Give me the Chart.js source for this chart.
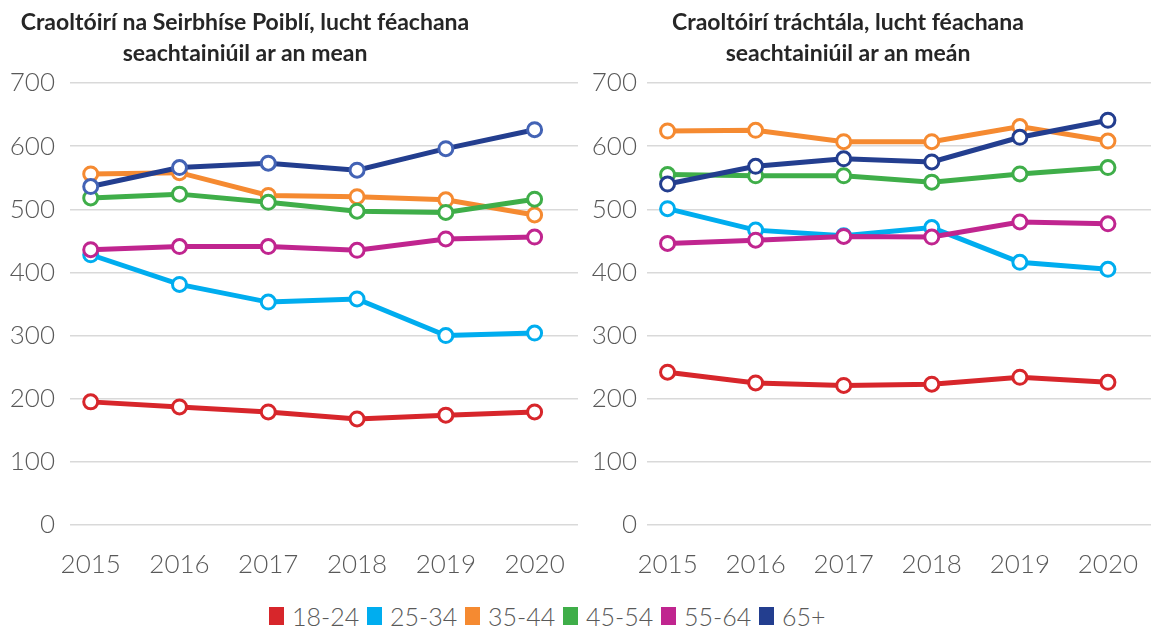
<!DOCTYPE html>
<html>
<head>
<meta charset="utf-8">
<script src="https://cdn.jsdelivr.net/npm/chart.js@4/dist/chart.umd.min.js"></script>
<style>
  body { margin: 0; background: #fff; font-family: Lato, sans-serif; }
  #page { position: relative; width: 1161px; height: 627px; overflow: hidden; }
  .title { position: absolute; top: 6px; text-align: center; font-weight: 700; font-size: 23px; line-height: 31px; color: #262626; z-index: 2; }
  .box { position: absolute; top: 0; height: 600px; }
  #legend { position: absolute; top: 603px; left: 269px; display: flex; font-size: 25px; font-weight: 300; color: #595959; line-height: 26px; }
  #legend .item { display: flex; align-items: center; width: 98px; }
  #legend .sw { width: 15px; height: 18px; margin-right: 8px; }
</style>
</head>
<body>
<div id="page">
  <div class="title" id="t1" style="left:0;width:490px">Craoltóirí na Seirbhíse Poiblí, lucht féachana<br>seachtainiúil ar an mean</div>
  <div class="title" id="t2" style="left:580px;width:536px">Craoltóirí tráchtála, lucht féachana<br>seachtainiúil ar an meán</div>
  <div class="box" style="left:0;width:588px"><canvas id="psb"></canvas></div>
  <div class="box" style="left:588px;width:573px"><canvas id="comm"></canvas></div>
  <div id="legend"></div>
</div>
<script>
var years = [2015, 2016, 2017, 2018, 2019, 2020];
var groups = ['18-24', '25-34', '35-44', '45-54', '55-64', '65+'];
var colors = ['#d7262b', '#00adef', '#f58a31', '#3fae49', '#c0258f', '#233e8f'];
var yTicks = [0, 100, 200, 300, 400, 500, 600, 700];

// public service broadcasters
var psb1824 = [195, 187, 179, 168, 174, 179];
var psb2534 = [428, 381, 353, 358, 300, 304];
var psb3544 = [556, 558, 522, 520, 515, 491];
var psb4554 = [518, 524, 511, 497, 495, 516];
var psb5564 = [436, 441, 441, 435, 453, 456];
var psb65 = [536, 566, 573, 562, 596, 626];

// commercial broadcasters
var com1824 = [242, 225, 221, 223, 234, 226];
var com2534 = [501, 467, 458, 471, 416, 405];
var com3544 = [624, 625, 607, 607, 631, 608];
var com4554 = [555, 553, 553, 543, 556, 566];
var com5564 = [446, 451, 457, 456, 480, 477];
var com65 = [540, 568, 580, 575, 614, 641];

Chart.defaults.font.family = 'Lato';
Chart.defaults.animation = false;

function makeDatasets(series, markerColors) {
    return series.map(function (vals, i) {
        return {
            label: groups[i],
            data: vals.map(function (v, j) { return { x: years[j], y: v }; }),
            borderColor: colors[i],
            backgroundColor: colors[i],
            borderWidth: 5,
            pointRadius: 7,
            pointBorderWidth: 3,
            pointBackgroundColor: '#fff',
            pointBorderColor: markerColors ? markerColors[i] : colors[i],
            order: series.length - i
        };
    });
}

function lineChart(canvasId, series, axisWidth, labelPad, markerColors) {
    var ctx = document.getElementById(canvasId).getContext('2d');
    return new Chart(ctx, {
        type: 'line',
        data: { datasets: makeDatasets(series, markerColors) },
        options: {
            responsive: true,
            maintainAspectRatio: false,
            layout: { padding: { top: 83, right: canvasId == 'psb' ? 3 : 0, bottom: 0, left: 0 } },
            plugins: {
                legend: { display: false },
                tooltip: { enabled: false }
            },
            scales: {
                x: {
                    type: 'linear',
                    min: years[0] - 21 / 90,
                    max: years[years.length - 1] + 44 / 90,
                    afterBuildTicks: function (scale) {
                        scale.ticks = years.map(function (y) { return { value: y }; });
                    },
                    afterFit: function (scale) { scale.height = 75; },
                    grid: { display: false },
                    border: { display: false },
                    ticks: {
                        color: '#595959',
                        font: { size: 26, weight: 300 },
                        padding: 16,
                        maxRotation: 0,
                        callback: function (v) { return String(v); }
                    }
                },
                y: {
                    min: 0,
                    max: 700,
                    afterBuildTicks: function (scale) {
                        scale.ticks = yTicks.map(function (v) { return { value: v }; });
                    },
                    afterFit: function (scale) { scale.width = axisWidth; },
                    grid: { color: '#d9d9d9', lineWidth: 1.5, drawTicks: false },
                    border: { display: false },
                    ticks: {
                        color: '#595959',
                        font: { size: 26, weight: 300 },
                        padding: labelPad
                    }
                }
            }
        }
    });
}

lineChart('psb', [psb1824, psb2534, psb3544, psb4554, psb5564, psb65], 70, 15,
    ['#d7262b', '#00adef', '#f58a31', '#3fae49', '#c0258f', '#4363b5']);
lineChart('comm', [com1824, com2534, com3544, com4554, com5564, com65], 59, 10);

var legend = document.getElementById('legend');
groups.forEach(function (g, i) {
    var item = document.createElement('div');
    item.className = 'item';
    var sw = document.createElement('span');
    sw.className = 'sw';
    sw.style.background = colors[i];
    var tx = document.createElement('span');
    tx.textContent = g;
    item.appendChild(sw);
    item.appendChild(tx);
    legend.appendChild(item);
});
</script>
</body>
</html>
